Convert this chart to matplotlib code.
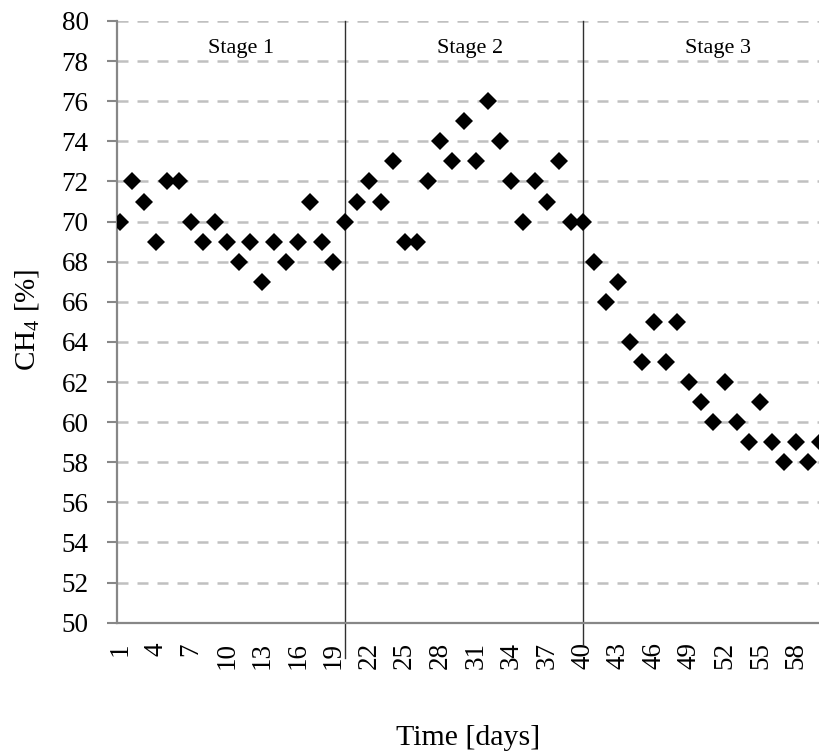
import matplotlib
matplotlib.use("Agg")
import matplotlib.pyplot as plt

plt.rcParams['font.family'] = ['Liberation Serif', 'DejaVu Serif']
plt.rcParams['mathtext.fontset'] = 'custom'
plt.rcParams['mathtext.rm'] = 'Liberation Serif'

# Data
days = list(range(1, 61))
ch4 = [70, 72, 71, 69, 72, 72, 70, 69, 70, 69,
       68, 69, 67, 69, 68, 69, 71, 69, 68, 70,
       71, 72, 71, 73, 69, 69, 72, 74, 73, 75,
       73, 76, 74, 72, 70, 72, 71, 73, 70, 70,
       68, 66, 67, 64, 63, 65, 63, 65, 62, 61,
       60, 62, 60, 59, 61, 59, 58, 59, 58, 59]
xtick_days = list(range(1, 59, 3))
ytick_vals = list(range(50, 81, 2))
stage_names = ["Stage 1", "Stage 2", "Stage 3"]
stage_label_x = [11.2, 30.5, 51.4]
stage_bounds = [20, 40]

W, H = 820, 753
fig = plt.figure(figsize=(W / 100, H / 100), dpi=100)
ax = fig.add_axes([117 / W, 1 - 622.7 / H, (W - 117) / W, (622.7 - 21) / H])

grid_color = '#c0c0c0'
spine_color = '#878787'

for v in ytick_vals[1:]:
    ax.axhline(v, color=grid_color, lw=1.8, linestyle=(0, (4.4, 3.6)), zorder=1)

ax.plot(days, ch4, linestyle='none', marker='D', markersize=9.5,
        color='black', markeredgewidth=0, zorder=3)

for b, ybot in zip(stage_bounds, [48.25, 48.9]):
    ax.plot([b, b], [ybot, 80], color='#303030', lw=1.0, clip_on=False, zorder=2)

for name, sx in zip(stage_names, stage_label_x):
    ax.text(sx, 78.4, name, ha='center', va='baseline', fontsize=16)

ax.set_xlim(0.747, 60.02)
ax.set_ylim(50, 80)
ax.set_xticks(xtick_days)
ax.set_xticklabels([str(d) for d in xtick_days], rotation=90, fontsize=19.5)
ax.set_yticks(ytick_vals)
ax.set_yticklabels([str(v) for v in ytick_vals], fontsize=19.5)

ax.tick_params(axis='x', length=0, pad=14)
ax.tick_params(axis='y', length=7.4, width=1.5, color=spine_color, pad=13)

for s in ['top', 'right']:
    ax.spines[s].set_visible(False)
for s in ['left', 'bottom']:
    ax.spines[s].set_color(spine_color)
    ax.spines[s].set_linewidth(1.6)

fig.text(28 / W, 1 - 320 / H, r'CH$_\mathregular{4}$ [%]', rotation=90,
         ha='center', va='center', fontsize=21)
fig.text(468 / W, 8 / H, 'Time [days]', ha='center', va='baseline', fontsize=21.5)

fig.savefig('out.png', dpi=100)
